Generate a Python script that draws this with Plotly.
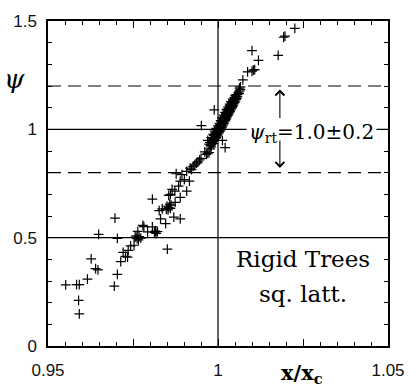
import plotly.graph_objects as go

# ---- data ----
band_x = [0.9980, 0.9983, 0.9985, 0.9987, 0.9989, 0.9991, 0.9993, 0.9995, 0.9997, 0.9999,
          1.0001, 1.0003, 1.0005, 1.0007, 1.0009, 1.0011, 1.0013, 1.0015, 1.0017, 1.0019,
          1.0021, 1.0023, 1.0025, 1.0027, 1.0029, 1.0031, 1.0033, 1.0035, 1.0037, 1.0039,
          1.0041, 1.0043, 1.0045, 1.0047, 1.0049, 1.0051, 1.0054, 1.0057, 1.0060, 1.0063]
band_y = [0.930, 0.938, 0.945, 0.952, 0.958, 0.964, 0.970, 0.976, 0.982, 0.988,
          0.994, 1.000, 1.006, 1.012, 1.018, 1.024, 1.030, 1.036, 1.042, 1.048,
          1.054, 1.060, 1.066, 1.072, 1.078, 1.084, 1.090, 1.096, 1.102, 1.108,
          1.114, 1.120, 1.126, 1.132, 1.138, 1.144, 1.152, 1.160, 1.168, 1.176]

band_edge_points = [
    (0.9976, 0.940), (0.9986, 0.934), (0.9990, 0.950), (0.9982, 0.955), (0.9995, 0.962),
    (0.9988, 0.972), (0.9999, 0.978), (0.9993, 0.985), (1.0005, 0.990), (0.9998, 0.998),
    (1.0009, 1.002), (1.0002, 1.010), (1.0013, 1.015), (1.0006, 1.022), (1.0017, 1.026),
    (1.0010, 1.034), (1.0021, 1.040), (1.0015, 1.048), (1.0025, 1.052), (1.0019, 1.060),
    (1.0029, 1.064), (1.0023, 1.072), (1.0033, 1.076), (1.0027, 1.085), (1.0037, 1.088),
    (1.0031, 1.097), (1.0041, 1.100), (1.0035, 1.110), (1.0045, 1.112), (1.0040, 1.122),
    (1.0049, 1.124), (1.0044, 1.135), (1.0053, 1.138), (1.0048, 1.146), (1.0057, 1.150),
    (1.0053, 1.160), (1.0062, 1.165), (1.0066, 1.183), (1.0063, 1.190), (1.0066, 1.196),
    (0.9978, 0.925), (0.9974, 0.932), (0.9984, 0.944), (0.9980, 0.962), (0.9992, 0.958),
    (0.9986, 0.978), (0.9997, 0.970), (0.9990, 0.992), (1.0003, 0.984), (0.9995, 1.004),
    (1.0007, 0.996), (1.0000, 1.016), (1.0011, 1.008), (1.0004, 1.028), (1.0015, 1.020),
    (1.0008, 1.040), (1.0019, 1.034), (1.0012, 1.054), (1.0023, 1.046), (1.0017, 1.066),
    (1.0027, 1.058), (1.0021, 1.078), (1.0031, 1.070), (1.0025, 1.092), (1.0035, 1.082),
    (1.0030, 1.104), (1.0039, 1.094), (1.0034, 1.116), (1.0043, 1.106), (1.0038, 1.128),
    (1.0047, 1.118), (1.0043, 1.140), (1.0051, 1.130), (1.0050, 1.155), (1.0055, 1.143),
]

scatter_points = [
    # upper part
    (1.0226, 1.466), (1.0193, 1.425), (1.0197, 1.430), (1.0100, 1.363), (1.0119, 1.318),
    (1.0177, 1.341), (1.0104, 1.273), (1.0100, 1.268), (1.0108, 1.276), (1.0087, 1.265),
    (1.0073, 1.228), (0.9989, 1.090), (0.9951, 1.017), (1.0013, 0.949), (1.0021, 0.916),
    # middle part
    (0.9970, 0.949), (0.9961, 0.896), (0.9970, 0.889), (0.9966, 0.884), (0.9974, 0.893),
    (0.9980, 0.919), (0.9977, 0.910), (0.9946, 0.859), (0.9950, 0.866), (0.9937, 0.844),
    (0.9941, 0.850), (0.9927, 0.829), (0.9932, 0.836), (0.9918, 0.821), (0.9922, 0.814),
    (0.9908, 0.806), (0.9877, 0.795), (0.9894, 0.791), (0.9901, 0.768), (0.9916, 0.761),
    (0.9889, 0.761), (0.9884, 0.738), (0.9865, 0.723), (0.9873, 0.715), (0.9908, 0.715),
    (0.9889, 0.686), (0.9807, 0.678), (0.9860, 0.700), (0.9855, 0.695), (0.9855, 0.640),
    (0.9850, 0.645), (0.9860, 0.635), (0.9853, 0.628), (0.9862, 0.650), (0.9848, 0.632),
    (0.9858, 0.655), (0.9836, 0.633), (0.9827, 0.625), (0.9874, 0.663), (0.9831, 0.587),
    (0.9846, 0.565), (0.9870, 0.595), (0.9889, 0.587), (0.9807, 0.550), (0.9816, 0.530),
    (0.9851, 0.447),
    # lower part
    (0.9779, 0.557), (0.9793, 0.527), (0.9782, 0.551), (0.9813, 0.524), (0.9818, 0.520),
    (0.9822, 0.528), (0.9756, 0.502), (0.9762, 0.496), (0.9768, 0.505), (0.9773, 0.498),
    (0.9766, 0.490), (0.9759, 0.508), (0.9764, 0.529), (0.9697, 0.590), (0.9649, 0.515),
    (0.9704, 0.497), (0.9743, 0.462), (0.9753, 0.465), (0.9736, 0.441), (0.9721, 0.432),
    (0.9728, 0.414), (0.9734, 0.410), (0.9714, 0.389), (0.9627, 0.402), (0.9640, 0.357),
    (0.9647, 0.351), (0.9704, 0.331), (0.9616, 0.309), (0.9695, 0.276), (0.9552, 0.282),
    (0.9584, 0.283), (0.9592, 0.283), (0.9590, 0.211), (0.9592, 0.148),
]

x_ticks = [0.95, 0.975, 1.0, 1.025, 1.05]
x_ticktext = ["0.95", " ", "1", " ", "1.05"]
y_ticks = [0, 0.5, 1.0, 1.5]
y_ticktext = ["0", "0.5", "1", "1.5"]
solid_levels = [0.5, 1.0]
dashed_levels = [0.8, 1.2]
x_ref = 1.0

xs = band_x + [p[0] for p in band_edge_points] + [p[0] for p in scatter_points]
ys = band_y + [p[1] for p in band_edge_points] + [p[1] for p in scatter_points]

fig = go.Figure()
fig.add_trace(go.Scatter(
    x=xs, y=ys, mode="markers",
    marker=dict(symbol="cross-thin", size=7, color="black",
                line=dict(color="black", width=1.2)),
    showlegend=False, hoverinfo="skip"))

shapes = []
for lv in solid_levels:
    shapes.append(dict(type="line", xref="x", yref="y", x0=0.95, x1=1.05, y0=lv, y1=lv,
                       line=dict(color="black", width=1.2), layer="below"))
for lv in dashed_levels:
    shapes.append(dict(type="line", xref="x", yref="y", x0=0.95, x1=1.05, y0=lv, y1=lv,
                       line=dict(color="black", width=1.2, dash="13px,7px"), layer="below"))
shapes.append(dict(type="line", xref="x", yref="y", x0=x_ref, x1=x_ref, y0=0, y1=1.5,
                   line=dict(color="black", width=1.2), layer="below"))

serif = "DejaVu Serif"
annotations = [
    dict(xref="x", yref="y", x=1.0275, y=0.982, text="<i>ψ</i><sub>rt</sub>=1.0±0.2",
         showarrow=False, font=dict(family=serif, size=20, color="black"),
         bgcolor="white", borderpad=2, xanchor="center", yanchor="middle"),
    dict(xref="x", yref="y", x=1.0182, y=1.184, text="", showarrow=True,
         ax=0, ay=30, arrowhead=4, arrowsize=1.6, arrowwidth=1.1, arrowcolor="black"),
    dict(xref="x", yref="y", x=1.0182, y=0.822, text="", showarrow=True,
         ax=0, ay=-29, arrowhead=4, arrowsize=1.6, arrowwidth=1.1, arrowcolor="black"),
    dict(xref="x", yref="y", x=1.0249, y=0.402, text="Rigid Trees", showarrow=False,
         font=dict(family=serif, size=23, color="black"), xanchor="center", yanchor="middle"),
    dict(xref="x", yref="y", x=1.0249, y=0.238, text="sq. latt.", showarrow=False,
         font=dict(family=serif, size=23, color="black"), xanchor="center", yanchor="middle"),
    dict(xref="paper", yref="y", x=-0.098, y=1.234, text="<i>ψ</i>", showarrow=False,
         font=dict(family=serif, size=26, color="black"), xanchor="center", yanchor="middle"),
    dict(xref="x", yref="paper", x=1.0246, y=-0.085, text="<b>x/x<sub>c</sub></b>",
         showarrow=False, font=dict(family=serif, size=21, color="black"),
         xanchor="center", yanchor="middle"),
]

tickfont = dict(family="Liberation Sans", size=17, color="#111")
fig.update_xaxes(range=[0.95, 1.05], tickvals=x_ticks, ticktext=x_ticktext,
                 ticks="inside", ticklen=7, tickwidth=1, tickcolor="black",
                 showline=True, linewidth=1.5, linecolor="black", mirror="allticks",
                 showgrid=False, zeroline=False, tickfont=tickfont, ticklabelstandoff=8,
                 minor=dict(ticks="inside", tick0=0.95, dtick=0.005, ticklen=4,
                            tickwidth=1, tickcolor="black", showgrid=False))
fig.update_yaxes(range=[0, 1.5], tickvals=y_ticks, ticktext=y_ticktext,
                 ticks="inside", ticklen=5, tickwidth=1, tickcolor="black",
                 showline=True, linewidth=1.5, linecolor="black", mirror="allticks",
                 showgrid=False, zeroline=False, tickfont=tickfont, ticklabelstandoff=6,
                 minor=dict(ticks="inside", tick0=0, dtick=0.1, ticklen=4,
                            tickwidth=1, tickcolor="black", showgrid=False))

fig.update_layout(width=417, height=392, autosize=False,
                  margin=dict(l=48, r=21, t=18, b=42),
                  paper_bgcolor="white", plot_bgcolor="white",
                  shapes=shapes, annotations=annotations, showlegend=False)

fig.write_html("out.html")
